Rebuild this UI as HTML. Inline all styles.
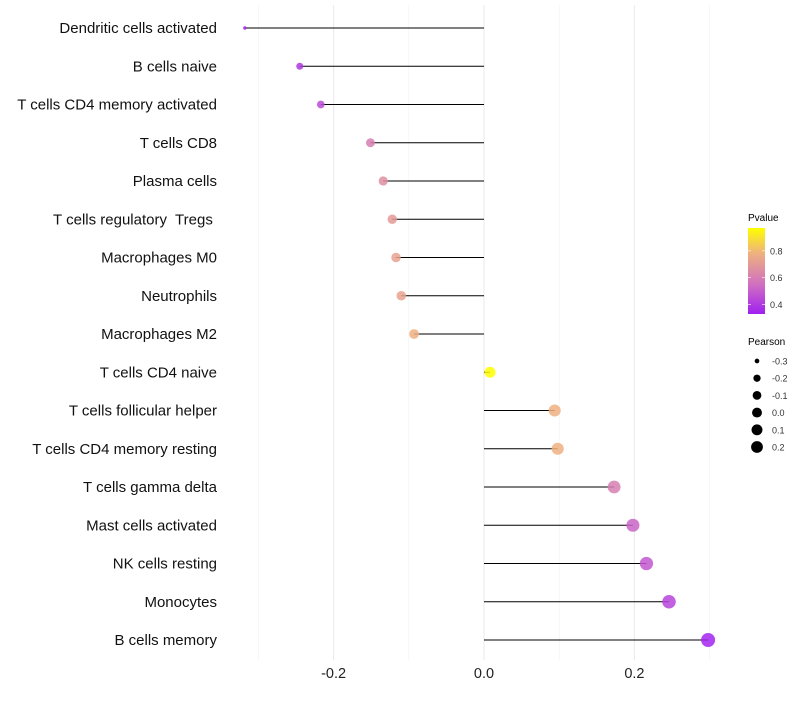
<!DOCTYPE html>
<html><head><meta charset="utf-8"><style>
body{margin:0;background:#fff;font-family:"Liberation Sans",sans-serif}
text{white-space:pre}
</style></head><body>
<svg id="chart" width="800" height="700" xmlns="http://www.w3.org/2000/svg"></svg>
<script>
const categories=["Dendritic cells activated","B cells naive","T cells CD4 memory activated","T cells CD8","Plasma cells","T cells regulatory  Tregs ","Macrophages M0","Neutrophils","Macrophages M2","T cells CD4 naive","T cells follicular helper","T cells CD4 memory resting","T cells gamma delta","Mast cells activated","NK cells resting","Monocytes","B cells memory"];
const pearson=[-0.318,-0.245,-0.217,-0.151,-0.134,-0.122,-0.117,-0.11,-0.093,0.008,0.094,0.098,0.173,0.198,0.216,0.246,0.298];
const pvalues=[0.33,0.40,0.45,0.60,0.66,0.70,0.73,0.73,0.78,0.97,0.78,0.78,0.60,0.52,0.48,0.43,0.34];
const xTicks=[-0.2,0,0.2];
const xMinor=[-0.3,-0.1,0.1,0.3];
const sizeTicks=[-0.3,-0.2,-0.1,0.0,0.1,0.2];
const colorTicks=[0.4,0.6,0.8];
const NS="http://www.w3.org/2000/svg";
const svg=document.getElementById('chart');
const xS=v=>484+v*752;
const yS=i=>28+i*38.25;
const rS=v=>1.7+Math.sqrt(Math.max(0,(v+0.318)/0.616))*5.3;
const stops=[[0.33,[160,32,240]],[0.55,[208,112,192]],[0.78,[238,176,128]],[0.97,[255,255,0]]];
function col(p){p=Math.max(0.33,Math.min(0.97,p));for(let i=0;i<stops.length-1;i++){const a=stops[i],b=stops[i+1];if(p<=b[0]){const t=(p-a[0])/(b[0]-a[0]);return 'rgb('+a[1].map((c,k)=>Math.round(c+(b[1][k]-c)*t)).join(',')+')';}}return 'rgb(255,255,0)';}
function mk(tag,at,txt){const e=document.createElementNS(NS,tag);for(const k in at)e.setAttribute(k,at[k]);if(txt!==undefined)e.textContent=txt;svg.appendChild(e);return e;}
xMinor.forEach(v=>{const l=mk('line',{x1:xS(v),x2:xS(v),y1:5,y2:660,stroke:'#f2f2f2','stroke-width':0.6});

});
xTicks.forEach(v=>{const l=mk('line',{x1:xS(v),x2:xS(v),y1:5,y2:660,stroke:'#ebebeb','stroke-width':1.1});


const t=mk('text',{x:xS(v),y:678,'text-anchor':'middle','font-size':14.5,fill:'#222'},v===0?'0.0':v.toFixed(1));

});
categories.forEach((c,i)=>{const y=yS(i);
const t=mk('text',{x:217,y:y+5,'text-anchor':'end','font-size':15,fill:'#111'},c);


const l=mk('line',{x1:xS(0),x2:xS(pearson[i]),y1:y,y2:y,stroke:'#000','stroke-width':1.1});


const d=mk('circle',{cx:xS(pearson[i]),cy:y,r:rS(pearson[i]),fill:col(pvalues[i]),'fill-opacity':0.85});

});
const lt=mk('text',{x:748,y:221,'font-size':10,fill:'#000'},'Pvalue');


const defs=mk('defs',{});
const g=document.createElementNS(NS,'linearGradient');g.setAttribute('id','pg');g.setAttribute('x1','0');g.setAttribute('x2','0');g.setAttribute('y1','1');g.setAttribute('y2','0');defs.appendChild(g);
stops.forEach(s=>{const st=document.createElementNS(NS,'stop');st.setAttribute('offset',(s[0]-0.33)/0.64);st.setAttribute('stop-color',col(s[0]));g.appendChild(st);});
const cb=mk('rect',{x:748,y:228,width:17,height:86,fill:'url(#pg)'});


const cy=p=>314-(p-0.33)/0.64*86;
colorTicks.forEach(p=>{mk('line',{x1:748,x2:751,y1:cy(p),y2:cy(p),stroke:'#fff','stroke-width':0.6});mk('line',{x1:762,x2:765,y1:cy(p),y2:cy(p),stroke:'#fff','stroke-width':0.6});
const t=mk('text',{x:770,y:cy(p)+3.5,'font-size':9,fill:'#333'},p.toFixed(1));

});
const st2=mk('text',{x:748,y:345,'font-size':10,fill:'#000'},'Pearson');


sizeTicks.forEach((v,i)=>{const y=361+i*17.2;
const d=mk('circle',{cx:757,cy:y,r:rS(v)*0.9,fill:'#000'});


const t=mk('text',{x:772,y:y+3.5,'font-size':9,fill:'#333'},v.toFixed(1));

});
</script>
</body></html>
